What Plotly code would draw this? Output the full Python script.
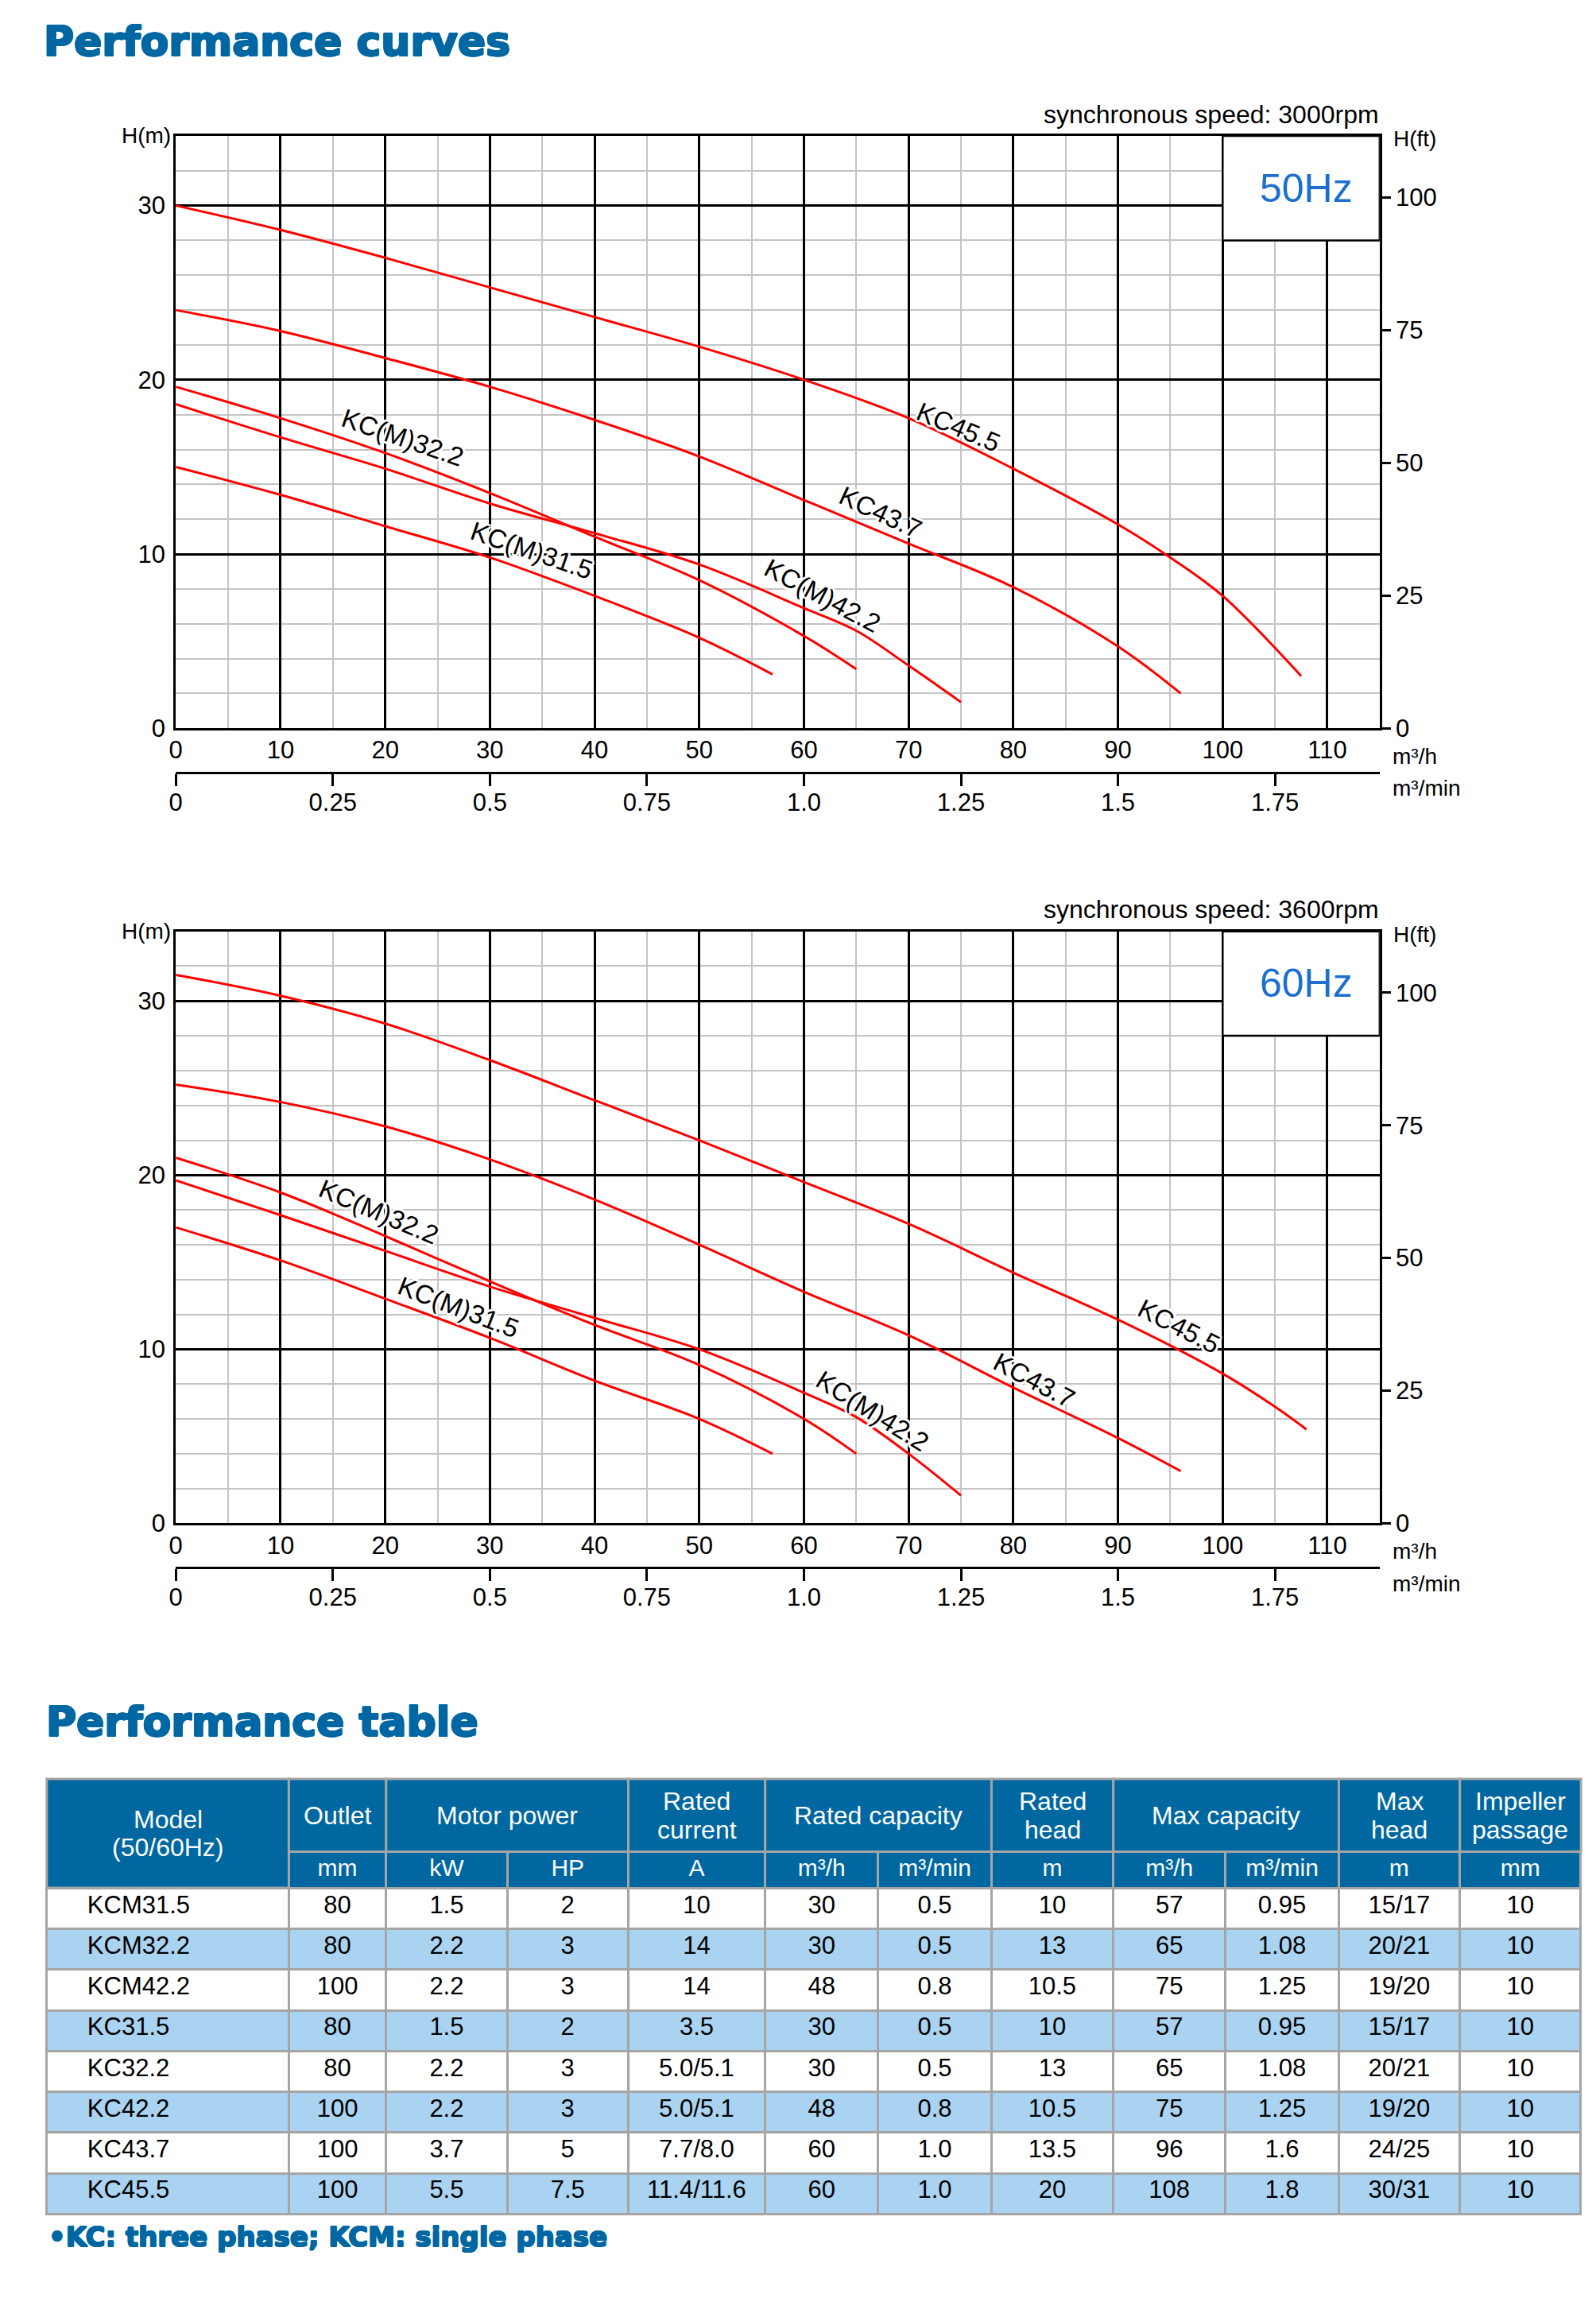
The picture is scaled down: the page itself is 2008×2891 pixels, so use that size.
import plotly.graph_objects as go

W, H = 2008, 2891

# ---------------- curve data (Q in m3/h, H in m) ----------------
curve_names = ["KC45.5", "KC43.7", "KC(M)32.2", "KC(M)42.2", "KC(M)31.5"]

q50_kc455 = [0, 10, 20, 30, 40, 50, 60, 70, 80, 90, 95, 100, 107.5]
h50_kc455 = [30.0, 28.6, 27.0, 25.3, 23.6, 21.9, 20.0, 17.8, 14.9, 11.7, 9.8, 7.6, 3.0]
q50_kc437 = [0, 10, 20, 30, 40, 50, 60, 70, 80, 90, 96]
h50_kc437 = [24.0, 22.8, 21.25, 19.6, 17.7, 15.6, 13.1, 10.6, 8.1, 4.7, 2.0]
q50_kcm322 = [0, 10, 20, 30, 40, 50, 60, 65]
h50_kcm322 = [19.6, 17.8, 15.8, 13.5, 11.0, 8.5, 5.3, 3.4]
q50_kcm422 = [0, 10, 20, 30, 40, 50, 60, 65, 70, 75]
h50_kcm422 = [18.6, 16.7, 14.9, 12.9, 11.2, 9.4, 6.9, 5.6, 3.6, 1.5]
q50_kcm315 = [0, 10, 20, 30, 40, 50, 57]
h50_kcm315 = [15.0, 13.4, 11.6, 9.8, 7.6, 5.2, 3.1]

q60_kc455 = [0, 10, 20, 30, 40, 50, 60, 70, 80, 90, 100, 105, 108]
h60_kc455 = [31.5, 30.3, 28.7, 26.6, 24.3, 22.0, 19.6, 17.2, 14.4, 11.7, 8.6, 6.7, 5.4]
q60_kc437 = [0, 10, 20, 30, 40, 50, 60, 70, 80, 90, 96]
h60_kc437 = [25.2, 24.2, 22.8, 20.9, 18.6, 16.0, 13.3, 10.8, 7.8, 4.9, 3.0]
q60_kcm322 = [0, 10, 20, 30, 40, 50, 60, 65]
h60_kcm322 = [21.0, 19.0, 16.5, 13.9, 11.4, 9.1, 6.0, 4.0]
q60_kcm422 = [0, 10, 20, 30, 40, 50, 60, 65, 70, 75]
h60_kcm422 = [19.7, 17.7, 15.65, 13.6, 11.8, 10.0, 7.5, 6.1, 4.0, 1.6]
q60_kcm315 = [0, 10, 20, 30, 40, 50, 57]
h60_kcm315 = [17.0, 15.1, 12.9, 10.65, 8.2, 6.0, 4.0]

# curve label positions (Q, H, angle)
lab50_q = [74.8, 67.3, 21.7, 61.8, 34.0]
lab50_h = [17.3, 12.4, 16.7, 7.6, 10.2]
lab50_a = [23, 25, 19, 28, 19]
lab60_q = [95.8, 82.0, 19.4, 66.6, 27.0]
lab60_h = [11.3, 8.2, 17.9, 6.45, 12.4]
lab60_a = [27, 28, 23, 32, 21]

# axis tick labels
q_min_ticks = [0, 0.25, 0.5, 0.75, 1.0, 1.25, 1.5, 1.75]
q_min_labels = ["0", "0.25", "0.5", "0.75", "1.0", "1.25", "1.5", "1.75"]
ft_ticks = [0, 25, 50, 75, 100]

# ---------------- table data ----------------
models = ["KCM31.5", "KCM32.2", "KCM42.2", "KC31.5", "KC32.2", "KC42.2", "KC43.7", "KC45.5"]
outlet = ["80", "80", "100", "80", "80", "100", "100", "100"]
power_kw = ["1.5", "2.2", "2.2", "1.5", "2.2", "2.2", "3.7", "5.5"]
power_hp = ["2", "3", "3", "2", "3", "3", "5", "7.5"]
rated_current = ["10", "14", "14", "3.5", "5.0/5.1", "5.0/5.1", "7.7/8.0", "11.4/11.6"]
rated_q_h = ["30", "30", "48", "30", "30", "48", "60", "60"]
rated_q_min = ["0.5", "0.5", "0.8", "0.5", "0.5", "0.8", "1.0", "1.0"]
rated_head = ["10", "13", "10.5", "10", "13", "10.5", "13.5", "20"]
max_q_h = ["57", "65", "75", "57", "65", "75", "96", "108"]
max_q_min = ["0.95", "1.08", "1.25", "0.95", "1.08", "1.25", "1.6", "1.8"]
max_head = ["15/17", "20/21", "19/20", "15/17", "20/21", "19/20", "24/25", "30/31"]
impeller = ["10", "10", "10", "10", "10", "10", "10", "10"]

unit_row = ["", "mm", "kW", "HP", "A", "m³/h", "m³/min", "m", "m³/h", "m³/min", "m", "mm"]
group_labels = [["Model", "(50/60Hz)"], ["Outlet"], ["Motor power"], ["Rated", "current"],
                ["Rated capacity"], ["Rated", "head"], ["Max capacity"], ["Max", "head"],
                ["Impeller", "passage"]]
group_spans = [1, 1, 2, 1, 2, 1, 2, 1, 1]

# ---------------- styling ----------------
FONT = "Liberation Sans, Arial, sans-serif"
HEAVY = "DejaVu Sans, sans-serif"
RED = "#ff0000"
BLUE_T = "#0067a3"
HDR = "#0067a1"
ROWB = "#aad3f1"
GRID_G = "#c4c4c4"
BORDER = "#a5a5a5"

def px(xp):
    return xp / W

def py(yp):
    return 1 - yp / H

DY = 4  # vertical nudge of the chart block
XDOM = [px(213.2), px(1734.6)]
charts = [
    dict(ydom=[py(918 + DY), py(168 + DY)], minpos=py(974 + DY), top=DY, hz="50Hz",
         rpm="synchronous speed: 3000rpm",
         curves=[(q50_kc455, h50_kc455), (q50_kc437, h50_kc437), (q50_kcm322, h50_kcm322),
                 (q50_kcm422, h50_kcm422), (q50_kcm315, h50_kcm315)],
         lq=lab50_q, lh=lab50_h, la=lab50_a),
    dict(ydom=[py(1924.5 + DY), py(1175 + DY)], minpos=py(1980.5 + DY), top=1006.5 + DY, hz="60Hz",
         rpm="synchronous speed: 3600rpm",
         curves=[(q60_kc455, h60_kc455), (q60_kc437, h60_kc437), (q60_kcm322, h60_kcm322),
                 (q60_kcm422, h60_kcm422), (q60_kcm315, h60_kcm315)],
         lq=lab60_q, lh=lab60_h, la=lab60_a),
]

fig = go.Figure()
annotations = []
shapes = []
tickfont = dict(family=FONT, size=31, color="black")

def ring(color, r):
    pts = [(r, 0), (-r, 0), (0, r), (0, -r), (r * 0.7, r * 0.7), (-r * 0.7, -r * 0.7),
           (r * 0.7, -r * 0.7), (-r * 0.7, r * 0.7)]
    return ", ".join(f"{dx:.1f}px {dy:.1f}px 0 {color}" for dx, dy in pts)

halo = ring("#fff", 3)
thick = ring(BLUE_T, 1.2)

layout_axes = {}
for i, c in enumerate(charts):
    xa = f"xaxis{'' if i == 0 else 2 * i + 1}"
    xm = f"xaxis{2 * i + 2}"
    ya = f"yaxis{'' if i == 0 else 2 * i + 1}"
    yf = f"yaxis{2 * i + 2}"
    xr = "x" if i == 0 else f"x{2 * i + 1}"
    yr = "y" if i == 0 else f"y{2 * i + 1}"
    xmr = f"x{2 * i + 2}"
    yfr = f"y{2 * i + 2}"
    layout_axes[xa] = dict(domain=XDOM, anchor=yr, range=[0, 115], tick0=0, dtick=10,
                           showgrid=True, gridcolor="black", gridwidth=2.5,
                           minor=dict(dtick=5, tick0=0, showgrid=True, gridcolor=GRID_G, gridwidth=2),
                           showline=True, mirror=True, linecolor="black", linewidth=3,
                           ticks="", tickfont=tickfont, zeroline=False, ticklabelstandoff=-2)
    layout_axes[ya] = dict(domain=c["ydom"], anchor=xr, range=[0, 34], tick0=0, dtick=10,
                           showgrid=True, gridcolor="black", gridwidth=2.5,
                           minor=dict(dtick=2, tick0=0, showgrid=True, gridcolor=GRID_G, gridwidth=2),
                           showline=True, mirror=True, linecolor="black", linewidth=3,
                           ticks="", tickfont=tickfont, zeroline=False, ticklabelstandoff=4)
    layout_axes[xm] = dict(overlaying=xr, anchor="free", position=c["minpos"], side="bottom",
                           range=[0, 115 / 60], tickmode="array", tickvals=q_min_ticks,
                           ticktext=q_min_labels, ticks="outside", ticklen=15, tickwidth=2.5,
                           tickcolor="black", showline=True, linecolor="black", linewidth=3,
                           showgrid=False, zeroline=False, tickfont=tickfont, ticklabelstandoff=-6)
    layout_axes[yf] = dict(overlaying=yr, side="right", anchor=xr, range=[0, 34 / 0.3048],
                           tickmode="array", tickvals=ft_ticks, ticks="outside", ticklen=13,
                           tickwidth=2.5, tickcolor="black", showgrid=False, zeroline=False,
                           showline=False, tickfont=tickfont)

    for name, (q, h) in zip(curve_names, c["curves"]):
        fig.add_trace(go.Scatter(x=q, y=h, mode="lines", name=name, xaxis=xr, yaxis=yr,
                                 line=dict(color=RED, width=3, shape="spline", smoothing=1.0),
                                 hoverinfo="skip"))
    # invisible carriers so the secondary scales (m3/min, ft) are drawn
    fig.add_trace(go.Scatter(x=q_min_ticks, y=[0] * len(q_min_ticks), xaxis=xmr, yaxis=yr,
                             mode="markers", marker=dict(opacity=0), hoverinfo="skip"))
    fig.add_trace(go.Scatter(x=[0] * len(ft_ticks), y=ft_ticks, xaxis=xr, yaxis=yfr,
                             mode="markers", marker=dict(opacity=0), hoverinfo="skip"))
    for name, lq, lh, la in zip(curve_names, c["lq"], c["lh"], c["la"]):
        annotations.append(dict(x=lq, y=lh, xref=xr, yref=yr, text=name, showarrow=False,
                                textangle=la, font=dict(family=FONT, size=33, color="black", shadow=halo)))
    # frequency box
    shapes.append(dict(type="rect", xref=xr, yref=yr, x0=100, x1=115, y0=28, y1=34,
                       fillcolor="white", line=dict(color="black", width=2.5), layer="between"))
    annotations.append(dict(x=108, y=31, xref=xr, yref=yr, text=c["hz"], showarrow=False,
                            font=dict(family=FONT, size=50, color="#1c6fd1")))
    t = c["top"]
    annotations += [
        dict(x=px(1736), y=py(141 + t), xref="paper", yref="paper", xanchor="right", yanchor="middle",
             text=c["rpm"], showarrow=False, font=dict(family=FONT, size=32, color="black")),
        dict(x=px(209), y=py(168 + t), xref="paper", yref="paper", xanchor="right", yanchor="middle",
             text="H(m)", showarrow=False, font=dict(family=FONT, size=28, color="black")),
        dict(x=px(1750), y=py(172 + t), xref="paper", yref="paper", xanchor="left", yanchor="middle",
             text="H(ft)", showarrow=False, font=dict(family=FONT, size=28, color="black")),
        dict(x=px(1749), y=py(953 + t), xref="paper", yref="paper", xanchor="left", yanchor="middle",
             text="m³/h", showarrow=False, font=dict(family=FONT, size=28, color="black")),
        dict(x=px(1749), y=py(994 + t), xref="paper", yref="paper", xanchor="left", yanchor="middle",
             text="m³/min", showarrow=False, font=dict(family=FONT, size=28, color="black")),
    ]

# titles and footnote
title_font = dict(family=HEAVY, size=52, color=BLUE_T, weight="bold", shadow=thick)
annotations += [
    dict(x=px(44), y=py(52), xref="paper", yref="paper", xanchor="left", yanchor="middle",
         text="Performance curves", showarrow=False, font=title_font),
    dict(x=px(47), y=py(2180), xref="paper", yref="paper", xanchor="left", yanchor="middle",
         text="Performance table", showarrow=False, font=title_font),
    dict(x=px(50), y=py(2832), xref="paper", yref="paper", xanchor="left", yanchor="middle",
         text="•KC: three phase; KCM: single phase", showarrow=False,
         font=dict(family=HEAVY, size=34, color=BLUE_T, weight="bold", shadow=ring(BLUE_T, 0.8))),
]

# ---------------- table ----------------
col_w = [306, 123, 153, 153, 173, 143, 143, 154, 142, 143, 153, 153]
T_LEFT, T_TOP, T_MID, T_UNIT = 50, 2252, 2344, 2390
total_w = sum(col_w)
edges = [T_LEFT]
for w_ in col_w:
    edges.append(edges[-1] + w_)

k = 0
for labels, span in zip(group_labels, group_spans):
    x0, x1 = edges[k], edges[k + span]
    bottom = T_UNIT if k == 0 else T_MID
    shapes.append(dict(type="rect", xref="paper", yref="paper", x0=px(x0), x1=px(x1),
                       y0=py(bottom), y1=py(T_TOP), fillcolor=HDR,
                       line=dict(color=BORDER, width=3), layer="above"))
    cy = (T_TOP + bottom) / 2
    n = len(labels)
    for j, lab in enumerate(labels):
        yy = cy + (j - (n - 1) / 2) * 36
        annotations.append(dict(x=px((x0 + x1) / 2), y=py(yy), xref="paper", yref="paper",
                                xanchor="center", yanchor="middle", text=lab, showarrow=False,
                                font=dict(family=FONT, size=32, color="white")))
    k += span

pad = "\u00a0" * 5
row_colors = ["white" if r % 2 == 0 else ROWB for r in range(len(models))]
columns = [[pad + m for m in models], outlet, power_kw, power_hp, rated_current, rated_q_h,
           rated_q_min, rated_head, max_q_h, max_q_min, max_head, impeller]
hdr_fill = ["rgba(0,0,0,0)"] + [HDR] * 11
hdr_line = ["rgba(0,0,0,0)"] + [BORDER] * 11
fig.add_trace(go.Table(
    domain=dict(x=[px(T_LEFT), px(T_LEFT + total_w)], y=[py(2866), py(T_MID)]),
    columnwidth=col_w,
    header=dict(values=unit_row, height=46, fill=dict(color=hdr_fill),
                line=dict(color=hdr_line, width=3), align="center",
                font=dict(family=FONT, size=30, color="white")),
    cells=dict(values=columns, height=51.25, fill=dict(color=[row_colors] * 12),
               line=dict(color=BORDER, width=3), align=["left"] + ["center"] * 11,
               font=dict(family=FONT, size=31, color="black")),
))

fig.update_layout(width=W, height=H, autosize=False, margin=dict(l=0, r=0, t=0, b=0),
                  paper_bgcolor="white", plot_bgcolor="white", showlegend=False,
                  annotations=annotations, shapes=shapes, **layout_axes)

fig.write_html("out.html", config={"displayModeBar": False},
               post_script="document.body.style.margin='0';")
